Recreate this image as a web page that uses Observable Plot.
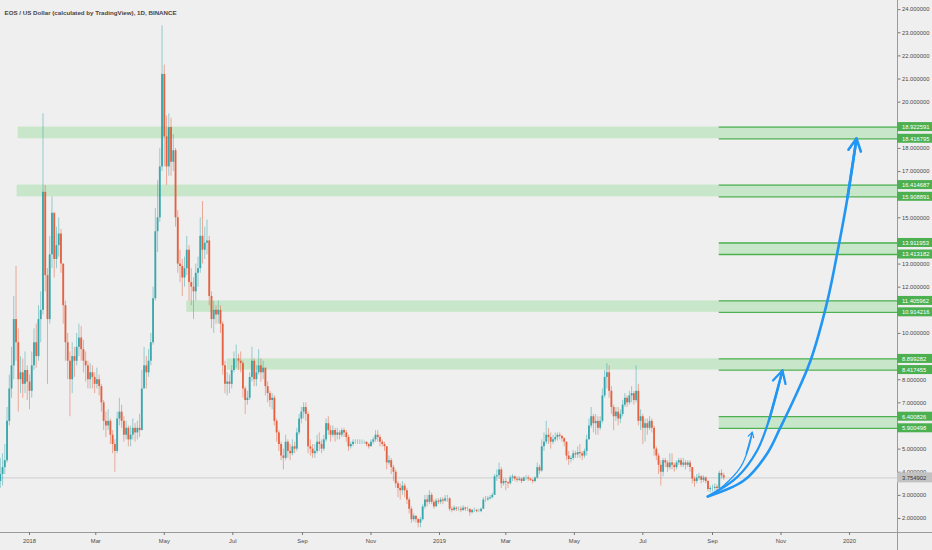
<!DOCTYPE html>
<html><head><meta charset="utf-8">
<script src="https://cdn.jsdelivr.net/npm/d3@7"></script>
<script src="https://cdn.jsdelivr.net/npm/@observablehq/plot@0.6"></script>
<style>
html,body{margin:0;padding:0;background:#efefef;}
#chart svg{display:block;}
</style></head>
<body><div id="chart"></div>
<script>
const title = "EOS / US Dollar (calculated by TradingView), 1D, BINANCE";
const firstDate = "2017-12-06";
const stepDays = 2;
const firstOpen = 3.6;
const closes = [3.9,4.2,4.5,6.2,7.6,8.6,10.6,9.6,8.0,8.3,7.8,8.4,7.9,7.5,8.6,9.6,9.0,10.6,11.0,16.1,
12.5,10.6,13.4,15.2,13.2,13.8,14.3,13.0,11.2,9.6,8.8,8.0,9.0,8.8,9.4,9.8,9.3,8.8,8.6,8.0,
8.3,8.1,7.8,8.0,7.7,7.0,6.2,6.0,6.2,5.6,5.2,4.9,6.3,6.6,6.2,5.6,5.9,5.4,5.6,5.9,
5.7,5.9,5.8,7.6,8.6,8.3,8.8,9.6,11.5,14.4,15.0,17.2,21.2,18.5,17.2,18.9,17.4,17.9,15.0,13.0,
12.9,12.4,12.8,13.6,12.2,12.0,11.8,12.6,12.8,14.2,13.6,13.9,14.0,11.6,10.6,11.0,10.8,11.0,10.4,8.6,
7.8,7.9,7.8,8.4,8.9,8.9,8.8,8.7,7.6,7.1,7.2,8.1,8.8,8.0,8.3,8.6,8.3,8.5,7.7,7.4,
7.1,7.2,6.2,5.7,5.2,4.7,4.6,5.3,4.9,4.8,5.1,5.0,5.7,6.3,6.6,6.8,6.5,5.1,5.0,4.8,
4.9,5.3,5.2,5.0,5.4,6.1,5.8,5.6,5.8,5.6,5.7,5.6,5.8,5.7,5.5,5.1,5.2,5.3,5.3,5.3,
5.3,5.3,5.3,5.2,5.1,5.3,5.4,5.6,5.5,5.3,5.2,5.1,4.4,4.5,4.2,4.0,3.5,3.3,3.2,3.4,
3.2,2.8,2.4,1.95,2.1,1.95,1.8,1.95,2.5,2.8,2.7,3.0,2.7,2.5,2.75,2.7,2.8,2.75,2.85,2.85,
2.4,2.35,2.45,2.4,2.4,2.35,2.45,2.4,2.4,2.25,2.35,2.35,2.3,2.3,2.4,2.8,2.8,2.85,2.9,3.0,
3.8,3.85,4.1,3.5,3.6,3.55,3.5,3.75,3.8,3.7,3.65,3.7,3.6,3.75,3.75,3.7,3.65,3.6,3.75,4.2,
4.05,5.1,5.3,5.6,5.5,5.3,5.4,5.5,5.6,5.55,5.45,5.3,4.7,4.55,4.6,4.8,4.75,4.85,4.8,4.7,
4.9,5.4,6.0,6.4,6.1,6.2,5.9,6.2,7.3,8.1,8.3,7.5,6.8,6.4,6.6,6.3,6.5,6.9,7.2,7.0,
7.3,7.4,7.1,7.5,6.2,6.4,5.9,6.1,5.9,6.2,5.9,5.0,4.7,4.3,4.0,4.5,4.4,4.2,4.4,4.3,
4.2,4.4,4.5,4.3,4.4,4.3,4.4,4.2,3.7,3.6,3.75,3.8,3.65,3.75,3.6,3.25,3.3,3.3,3.35,3.3,
3.95,3.85,3.754902];
const highs = [4.6,4.8,5.2,6.8,8.2,9.4,11.6,12.9,10.2,9.0,8.9,9.2,8.6,8.2,9.2,10.2,10.4,11.2,11.8,19.5,
16.4,12.8,14.2,15.9,15.2,14.6,15.0,14.5,13.0,11.4,10.0,9.2,9.6,9.4,10.0,10.4,10.3,9.7,9.2,8.8,
8.7,8.6,8.3,8.5,8.2,7.8,7.1,6.6,6.7,6.3,5.8,5.4,6.6,7.2,6.9,6.4,6.2,6.0,6.0,6.3,
6.1,6.2,6.5,8.4,9.4,9.0,9.3,10.0,12.0,15.4,16.6,18.0,23.3,21.6,19.4,19.5,19.3,18.6,18.0,15.3,
13.6,13.2,13.3,14.2,13.8,12.8,12.4,13.0,13.3,15.0,15.7,14.6,14.9,14.2,11.8,11.4,11.2,11.4,11.2,10.5,
8.8,8.3,8.2,8.6,9.2,9.5,9.1,9.2,8.8,7.7,7.5,8.3,9.4,8.9,8.6,9.3,8.9,8.8,8.5,7.9,
7.5,7.4,7.3,6.3,5.8,5.3,5.0,5.6,5.4,5.2,5.4,5.3,5.9,6.5,6.8,7.0,7.0,6.6,5.4,5.2,
5.2,5.6,5.7,5.4,5.6,6.3,6.4,6.0,6.0,5.9,5.9,5.8,5.9,5.9,5.8,5.6,5.3,5.4,5.4,5.4,
5.4,5.4,5.35,5.3,5.25,5.4,5.5,5.8,5.8,5.6,5.4,5.3,5.1,4.7,4.6,4.3,4.1,3.6,3.5,3.6,
3.5,3.3,2.9,2.5,2.2,2.1,2.0,2.05,2.6,3.0,3.0,3.2,3.1,2.8,2.85,2.85,2.9,2.9,3.0,3.0,
2.9,2.5,2.55,2.5,2.5,2.5,2.55,2.5,2.5,2.4,2.4,2.45,2.4,2.4,2.45,2.9,2.95,2.95,3.0,3.1,
3.9,4.1,4.4,4.2,3.7,3.7,3.6,3.85,3.9,3.85,3.8,3.8,3.75,3.8,3.85,3.85,3.75,3.7,3.8,4.4,
4.3,5.4,5.7,6.2,5.9,5.7,5.6,5.7,5.7,5.7,5.6,5.5,5.3,4.9,4.7,4.95,4.9,5.1,5.2,4.9,
5.0,5.6,6.3,6.8,6.5,6.5,6.4,6.4,7.6,8.4,8.7,8.6,7.7,6.9,6.8,6.8,6.7,7.1,7.4,7.3,
7.5,7.7,7.5,8.6,7.8,6.7,6.5,6.3,6.3,6.4,6.3,6.0,5.1,4.8,4.5,4.6,4.6,4.5,4.8,4.8,
4.4,4.5,4.6,4.6,4.6,4.5,4.5,4.5,4.2,3.8,3.9,3.95,3.85,3.85,3.8,3.65,3.4,3.45,3.5,3.45,
4.05,4.1,3.95];
const lows = [3.3,3.4,3.9,4.4,6.0,7.2,8.0,8.8,6.6,7.4,7.2,7.4,7.1,6.7,7.2,8.4,8.5,8.8,9.6,10.8,
11.8,7.8,10.4,12.8,12.4,12.8,13.3,12.6,10.4,8.8,8.0,6.4,7.4,8.1,8.6,9.0,8.8,8.3,7.9,7.6,
7.6,7.6,7.4,7.6,7.3,6.6,5.8,5.5,5.8,5.2,4.8,4.0,4.8,6.0,5.9,5.3,5.4,5.1,5.1,5.4,
5.3,5.4,5.5,5.8,7.7,7.6,8.1,8.6,9.5,11.4,13.5,14.8,17.0,17.2,16.4,16.8,16.8,17.0,14.6,12.6,
12.2,11.6,12.0,12.5,11.4,11.2,10.6,11.4,12.0,12.6,13.0,13.2,13.4,11.2,10.2,10.0,10.4,10.4,10.0,8.2,
7.4,7.3,7.4,7.6,8.3,8.5,8.4,8.3,7.2,6.5,6.9,7.1,7.9,7.7,7.7,8.2,7.9,8.0,7.3,7.0,
6.8,6.7,6.0,5.3,4.9,4.5,4.1,4.5,4.6,4.5,4.7,4.8,4.9,5.6,6.1,6.3,6.2,4.8,4.7,4.6,
4.6,4.8,4.9,4.8,4.9,5.3,5.6,5.3,5.5,5.3,5.4,5.4,5.5,5.5,5.3,4.9,5.0,5.1,5.2,5.2,
5.2,5.2,5.2,5.1,5.0,5.1,5.2,5.3,5.3,5.1,5.1,4.9,4.1,4.3,3.9,3.6,3.3,2.9,2.8,3.0,
2.9,2.6,2.2,1.8,1.85,1.8,1.6,1.6,1.9,2.4,2.5,2.6,2.6,2.4,2.5,2.6,2.6,2.6,2.7,2.7,
2.3,2.25,2.3,2.3,2.3,2.25,2.3,2.3,2.3,2.1,2.2,2.25,2.25,2.25,2.25,2.4,2.7,2.75,2.8,2.85,
3.0,3.6,3.7,3.3,3.4,3.2,3.3,3.45,3.6,3.6,3.55,3.6,3.5,3.6,3.65,3.6,3.6,3.5,3.55,3.7,
3.9,4.0,4.9,5.2,5.2,5.0,5.2,5.3,5.35,5.4,5.3,5.1,4.5,4.3,4.4,4.5,4.6,4.6,4.6,4.5,
4.6,4.7,5.4,5.9,5.7,5.6,5.6,5.8,6.1,7.2,7.6,7.2,6.5,5.8,6.2,6.0,6.1,6.4,6.8,6.8,
6.9,7.0,6.9,7.0,6.0,5.8,5.2,5.3,5.6,5.8,5.7,4.7,4.5,3.9,3.4,3.8,4.2,4.0,4.1,4.1,
4.0,4.1,4.3,4.2,4.2,4.1,4.2,4.0,3.5,3.35,3.5,3.65,3.5,3.55,3.5,3.15,3.1,3.15,3.2,3.15,
3.3,3.7,3.65];

const lastPrice = 3.754902;
const zoneHigh = [18.922591, 16.414687, 13.911953, 11.405962, 8.899282, 6.400826];
const zoneLow  = [18.416795, 15.908891, 13.413182, 10.914216, 8.417455, 5.900498];
const zoneStart = ["2017-12-22", "2017-12-21", "2019-09-07", "2018-05-21", "2018-06-26", "2019-09-07"];
const levelLineStart = "2019-09-07";

// price-scale labels that stay visible (the others sit under the level labels)
const yTicks = [2,3,4,5,7,8,10,12,13,15,17,18,20,21,22,23,24];
const xTickDates = ["2018-01-01","2018-03-01","2018-05-01","2018-07-01","2018-09-01","2018-11-01",
  "2019-01-01","2019-03-01","2019-05-01","2019-07-01","2019-09-01","2019-11-01","2020-01-01"];
const xTickLabels = ["2018","Mar","May","Jul","Sep","Nov","2019","Mar","May","Jul","Sep","Nov","2020"];

const thinArrowDates = ["2019-08-27T19:00Z","2019-09-11T02:00Z","2019-09-26T00:00Z","2019-10-03T10:00Z","2019-10-06T10:00Z"];
const thinArrowPrices = [2.95, 3.43, 4.22, 5.08, 5.73];
const thinHeadFrom = ["2019-10-01T00:00Z", 4.8];
const midArrowDates = ["2019-08-27T19:00Z","2019-09-23T00:00Z","2019-10-10T19:00Z","2019-10-21T05:00Z","2019-11-02T07:00Z"];
const midArrowPrices = [2.95, 3.79, 4.94, 6.24, 8.4];
const bigArrowDates = ["2019-08-27T19:00Z","2019-09-28T22:00Z","2019-10-19T17:00Z","2019-10-31T14:00Z","2019-11-12T00:00Z",
  "2019-11-27T07:00Z","2019-12-12T10:00Z","2019-12-22T05:00Z","2019-12-30T05:00Z","2020-01-07T05:00Z"];
const bigArrowPrices = [2.95, 3.64, 4.81, 5.95, 7.1, 8.83, 11.43, 13.76, 15.88, 18.43];

// ---- build ----
const UP = "#26a0a6", DOWN = "#e4532f";
const start0 = new Date(firstDate + "T00:00Z");
const candles = closes.map((c, i) => {
  const open = i ? closes[i - 1] : firstOpen;
  return {date: d3.utcDay.offset(start0, stepDays * i), open, close: c, high: highs[i], low: lows[i],
          col: c >= open ? UP : DOWN};
});
const xStart = new Date("2017-12-06T04:19Z");
const xEnd = new Date("2020-02-12T16:48Z");
const yDomain = [1.395, 24.395];
const zones = zoneLow.map((lo, i) => ({lo, hi: zoneHigh[i], start: new Date(zoneStart[i] + "T00:00Z")}));
const levels = zoneHigh.flatMap((h, i) => [h, zoneLow[i]]);
const pts = (ds, ps) => ds.map((d, i) => ({date: new Date(d), price: ps[i]}));
const thin = pts(thinArrowDates, thinArrowPrices);
const mid = pts(midArrowDates, midArrowPrices);
const big = pts(bigArrowDates, bigArrowPrices);
const head = (from, line) => [{x1: from[0], y1: from[1], x2: line[line.length - 1].date, y2: line[line.length - 1].price}];
const labelMap = new Map(xTickDates.map((d, i) => [+new Date(d + "T00:00Z"), xTickLabels[i]]));
const FONT = "'Liberation Sans', Arial, sans-serif";
const FS = 5.8;
const BLUE = "#2196f3";

const chart = Plot.plot({
  width: 932, height: 550,
  marginLeft: 0, marginRight: 35, marginTop: 0, marginBottom: 18,
  style: {background: "#efefef", fontFamily: FONT, color: "#4a4a4a"},
  x: {type: "utc", domain: [xStart, xEnd], axis: null},
  y: {type: "linear", domain: yDomain, axis: null},
  color: {type: "identity"},
  marks: [
    Plot.rect(zones, {x1: "start", x2: xEnd, y1: "lo", y2: "hi", fill: "#c8e6c9"}),
    Plot.ruleY([lastPrice], {stroke: "#cdcdcd", strokeWidth: 1}),
    Plot.ruleX(candles, {x: "date", y1: "low", y2: "high", stroke: "col", strokeWidth: 0.9, strokeOpacity: 0.5}),
    Plot.ruleX(candles, {x: "date", y1: "open", y2: "close", stroke: "col", strokeWidth: 1.9, strokeOpacity: 0.85}),
    Plot.ruleY(levels, {y: d => d, x1: new Date(levelLineStart + "T00:00Z"), x2: xEnd, stroke: "#4caf50", strokeWidth: 1.3}),
    Plot.line(thin, {x: "date", y: "price", curve: "catmull-rom", stroke: BLUE, strokeWidth: 1.2, strokeLinecap: "round"}),
    Plot.line(mid, {x: "date", y: "price", curve: "catmull-rom", stroke: BLUE, strokeWidth: 2.3, strokeLinecap: "round"}),
    Plot.line(big, {x: "date", y: "price", curve: "catmull-rom", stroke: BLUE, strokeWidth: 2.6, strokeLinecap: "round"}),
    Plot.arrow(head(thinHeadFrom.map((v, i) => i ? v : new Date(v)), thin), {x1: "x1", y1: "y1", x2: "x2", y2: "y2", stroke: BLUE, strokeWidth: 1.2, headLength: 7, headAngle: 60}),
    Plot.arrow(head([mid[3].date, mid[3].price], mid), {x1: "x1", y1: "y1", x2: "x2", y2: "y2", stroke: BLUE, strokeWidth: 2.3, headLength: 9, headAngle: 56}),
    Plot.arrow(head([big[8].date, big[8].price], big), {x1: "x1", y1: "y1", x2: "x2", y2: "y2", stroke: BLUE, strokeWidth: 2.6, headLength: 8, headAngle: 54}),
    Plot.ruleX([xEnd], {stroke: "#9a9a9a", strokeWidth: 1, insetBottom: -18}),
    Plot.ruleY([yDomain[0]], {stroke: "#9a9a9a", strokeWidth: 1, insetRight: -35}),
    Plot.axisY(yTicks, {anchor: "right", tickSize: 2.5, tickPadding: 2, tickFormat: d => d.toFixed(6),
      fontSize: FS, fill: "#4a4a4a", stroke: "#777", fontFamily: FONT}),
    Plot.axisX(xTickDates.map(d => new Date(d + "T00:00Z")), {anchor: "bottom", tickSize: 3, tickPadding: 3.5,
      tickFormat: d => labelMap.get(+d), fontSize: FS, fill: "#4a4a4a", stroke: "#777", fontFamily: FONT}),
    Plot.rect(levels, {x1: xEnd, x2: xEnd, y1: d => d, y2: d => d, insetTop: -4.5, insetBottom: -4.5, insetRight: -35, fill: "#4caf50"}),
    Plot.text(levels, {x: xEnd, y: d => d, text: d => d.toFixed(6), textAnchor: "start", dx: 4.5, fill: "white", fontSize: FS, fontFamily: FONT}),
    Plot.rect([lastPrice], {x1: xEnd, x2: xEnd, y1: d => d, y2: d => d, insetTop: -5, insetBottom: -5, insetRight: -35, fill: "#c2c2c2"}),
    Plot.text([lastPrice], {x: xEnd, y: d => d, text: d => d.toFixed(6), textAnchor: "start", dx: 4.5, fill: "#333", fontSize: FS, fontFamily: FONT}),
    Plot.text([title], {frameAnchor: "top-left", dx: 4, dy: 10.5, textAnchor: "start", fontWeight: "bold", fontSize: 6.2, fill: "#4b4545", fontFamily: FONT})
  ]
});
document.getElementById("chart").appendChild(chart);
</script>
</body></html>
